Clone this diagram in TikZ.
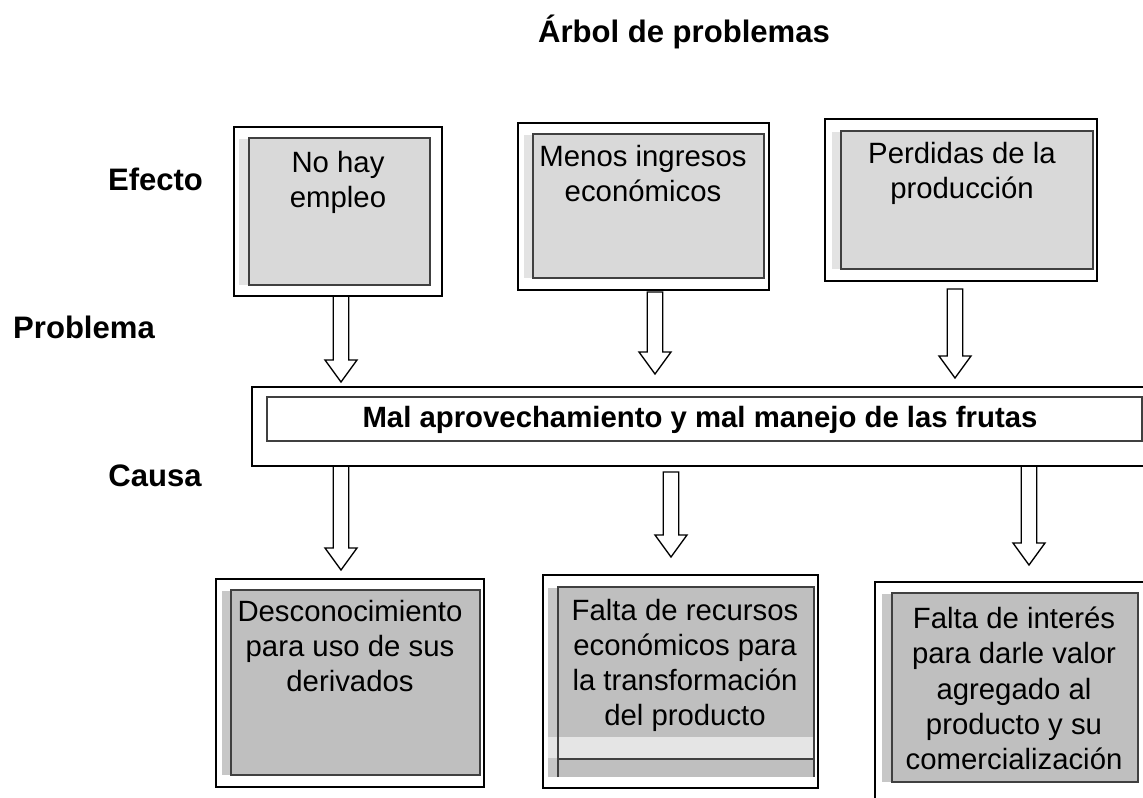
\documentclass[tikz,border=0pt]{standalone}
\usepackage{fontspec}
\setmainfont{Liberation Sans}
\usetikzlibrary{fit,calc}

\definecolor{effectfill}{gray}{0.85}
\definecolor{effectstrip}{gray}{0.89}
\definecolor{causefill}{gray}{0.75}
\definecolor{causestrip}{gray}{0.78}
\definecolor{bandfill}{gray}{0.90}
\definecolor{edgegray}{gray}{0.25}

\newcommand{\hollowarrow}[2]{%
  \draw[blockarrow] let \p1=#1, \p2=#2 in
    (\x1-5.8pt,\y1) -- (\x1-5.8pt,\y2+16.5pt) -- (\x1-12pt,\y2+16.5pt) -- (\x1,\y2)
    -- (\x1+12pt,\y2+16.5pt) -- (\x1+5.8pt,\y2+16.5pt) -- (\x1+5.8pt,\y1) -- cycle;}

\begin{document}
\begin{tikzpicture}[x=0.75pt, y=-0.75pt,
  outerbox/.style={rectangle, draw, line width=1.5pt, inner sep=0pt, outer sep=0pt},
  effectbox/.style={rectangle, draw=edgegray, line width=0.8pt, fill=effectfill, inner sep=0pt, outer sep=0pt},
  causebox/.style={rectangle, draw=edgegray, line width=0.8pt, fill=causefill, inner sep=0pt, outer sep=0pt},
  problembox/.style={rectangle, draw=edgegray, line width=0.8pt, fill=white, inner sep=0pt, outer sep=0pt},
  edgeline/.style={draw=edgegray, line width=0.8pt},
  boxtext/.style={align=center, inner sep=0pt, font=\fontsize{22}{26.3}\selectfont},
  rowlabel/.style={inner sep=0pt, font=\bfseries\fontsize{23.3}{28}\selectfont},
  blockarrow/.style={draw, line width=1pt, line join=miter}
]
\useasboundingbox (0,0) rectangle (1143,797);

\node[rowlabel, anchor=base] (title) at (684,42) {Árbol de problemas};
\node[rowlabel, anchor=base] (efecto) at (155.5,190) {Efecto};
\node[rowlabel, anchor=base] (problema) at (84,338) {Problema};
\node[rowlabel, anchor=base] (causa) at (155,486) {Causa};

% efectos
\node[outerbox, fit={(234,127) (442,296)}] (ef1) {};
\node[outerbox, fit={(518,123) (769,290)}] (ef2) {};
\node[outerbox, fit={(825,119) (1097,281)}] (ef3) {};
\fill[effectstrip] (239,139) rectangle (249,285);
\fill[effectstrip] (524,135) rectangle (533,278);
\fill[effectstrip] (832,132) rectangle (841,269);
\node[effectbox, fit={(249,138) (430,285)}] (ef1in) {};
\node[effectbox, fit={(533,134) (764,278)}] (ef2in) {};
\node[effectbox, fit={(841,131) (1093,269)}] (ef3in) {};
\node[boxtext, anchor=north] (ef1t) at (338,151) {No hay\\empleo};
\node[boxtext, anchor=north] (ef2t) at (643,145) {Menos ingresos\\económicos};
\node[boxtext, anchor=north] (ef3t) at (962,142) {Perdidas de la\\producción};

% problema
\node[outerbox, fit={(252,387) (1160,466)}] (prob) {};
\node[problembox, fit={(267,397) (1142,441)}] (probin) {};
\node[rowlabel, font=\bfseries\fontsize{22}{26}\selectfont, anchor=base] (probt) at (700,427)
  {Mal aprovechamiento y mal manejo de las frutas};

% causas
\node[outerbox, fit={(216,579) (484,787)}] (ca1) {};
\node[outerbox, fit={(543,575) (818,788)}] (ca2) {};
\node[outerbox, fit={(875,582) (1152,805)}] (ca3) {};
\fill[causestrip] (222,591) rectangle (231,775);
\fill[causestrip] (548,588) rectangle (558,777);
\fill[causestrip] (882,594) rectangle (892,782);
\node[causebox, fit={(231,590) (480,775)}] (ca1in) {};
\node[causebox, draw=none, fit={(558,587) (814,777)}] (ca2in) {};
\fill[bandfill] (548,737) rectangle (814,758);
\draw[edgeline] (558,759) -- (814,759);
\draw[edgeline] (ca2in.south west) -- (ca2in.north west) -- (ca2in.north east) -- (ca2in.south east);
\node[causebox, fit={(892,593) (1138,782)}] (ca3in) {};
\node[boxtext, anchor=north] (ca1t) at (350,600) {Desconocimiento\\para uso de sus\\derivados};
\node[boxtext, anchor=north] (ca2t) at (685,599) {Falta de recursos\\económicos para\\la transformación\\del producto};
\node[boxtext, anchor=north] (ca3t) at (1014,607) {Falta de interés\\para darle valor\\agregado al\\producto y su\\comercialización};

% flechas
\hollowarrow{($(ef1.south)+(3,0)$)}{($(prob.north)+(0,-5)$)}
\hollowarrow{($(ef2.south)+(11.5,2)$)}{($(prob.north)+(0,-13)$)}
\hollowarrow{($(ef3.south)+(-6,8)$)}{($(prob.north)+(0,-9)$)}
\hollowarrow{($(prob.south -| ca1.north)+(-9,0)$)}{($(ca1.north)+(0,-9)$)}
\hollowarrow{($(prob.south -| ca2.north)+(-9.5,6)$)}{($(ca2.north)+(0,-18)$)}
\hollowarrow{($(prob.south -| ca3.north)+(15.5,0)$)}{($(ca3.north)+(0,-17)$)}
\end{tikzpicture}
\end{document}
